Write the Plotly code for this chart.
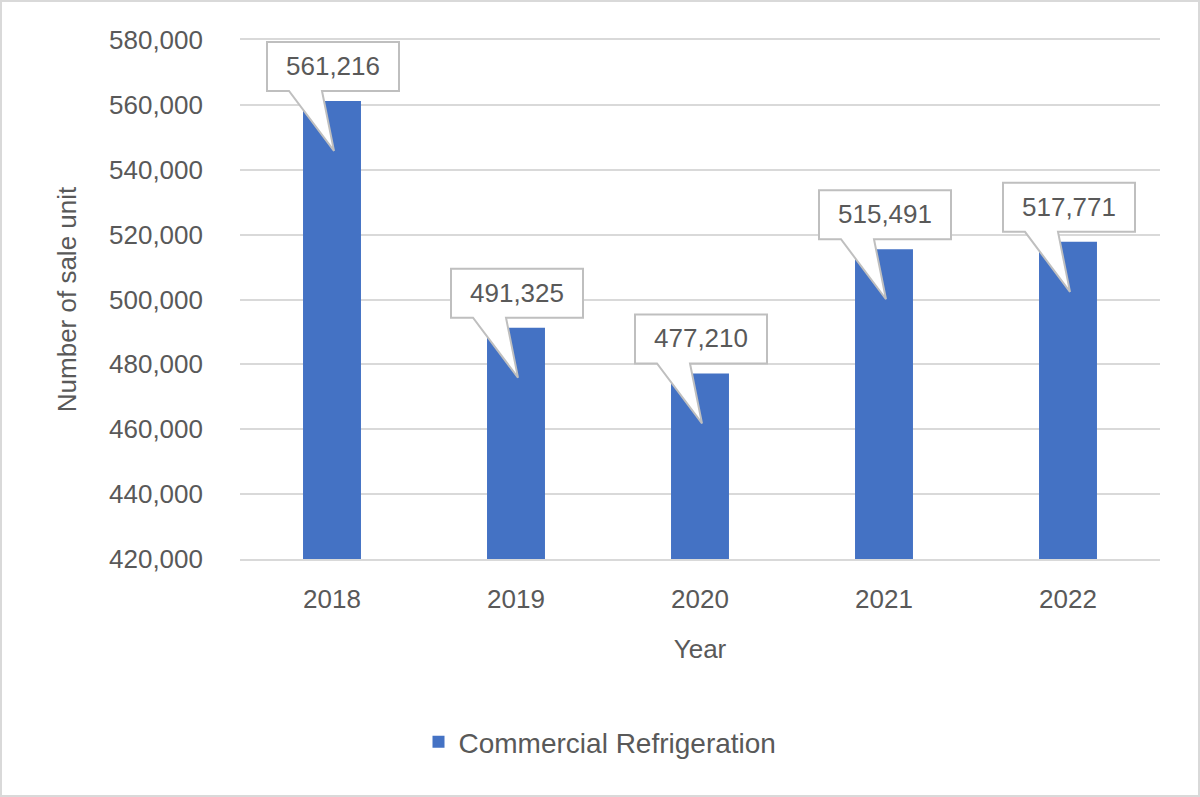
import plotly.graph_objects as go

years = ["2018", "2019", "2020", "2021", "2022"]
sales = [561216, 491325, 477210, 515491, 517771]
y_ticks = [420000, 440000, 460000, 480000, 500000, 520000, 540000, 560000, 580000]
series_name = "Commercial Refrigeration"

BAR = "#4472C4"
TXT = "#595959"
GRID = "#D9D9D9"
FONT = "Liberation Sans, Arial, sans-serif"

idx = list(range(len(years)))

fig = go.Figure()
fig.add_trace(go.Bar(
    x=idx, y=sales, name=series_name, marker=dict(color=BAR, line=dict(width=0)),
    width=0.315, showlegend=True, hoverinfo="skip"
))

fig.update_layout(
    width=1200, height=797,
    margin=dict(l=240, r=40, t=40, b=238),
    paper_bgcolor="white", plot_bgcolor="white",
    font=dict(family=FONT, color=TXT, size=26),
    legend=dict(orientation="h", x=0.5, xref="container", xanchor="center",
                y=55 / 797, yref="container", yanchor="middle",
                font=dict(size=28, color=TXT, family=FONT)),
    xaxis=dict(range=[-0.5, 4.5], tickvals=idx, ticktext=years, showgrid=False,
               zeroline=False, showline=True, mirror=True, linecolor=GRID, linewidth=2,
               ticks="", ticklabelstandoff=16,
               tickfont=dict(size=26, color=TXT),
               title=dict(text="Year", font=dict(size=26, color=TXT), standoff=27)),
    yaxis=dict(range=[420000, 580000], tickvals=y_ticks, tickformat=",",
               showgrid=True, gridcolor=GRID, gridwidth=2, zeroline=False,
               showline=False, ticks="", ticklabelstandoff=36,
               tickfont=dict(size=26, color=TXT),
               title=dict(text="Number of sale unit", font=dict(size=26, color=TXT), standoff=24)),
)

# outer chart border
fig.add_shape(type="rect", xref="paper", yref="paper", x0=-239/920, x1=1 + 39/920,
              y0=-237/519, y1=1 + 39/519, line=dict(color=GRID, width=2),
              fillcolor="rgba(0,0,0,0)", layer="below")

# callouts
callout_path = "M -65,10 L -43,10 L 2,-50 L -10,10 L 67,10 L 67,59 L -65,59 Z"
for i, v in zip(idx, sales):
    fig.add_shape(type="path", xref="x", yref="y", xsizemode="pixel", ysizemode="pixel",
                  xanchor=i, yanchor=v, path=callout_path,
                  fillcolor="white", line=dict(color="#BFBFBF", width=2), layer="above")
    fig.add_annotation(x=i, y=v, xref="x", yref="y", text=f"{v:,}", showarrow=False,
                       xshift=1, yshift=35, font=dict(size=26, color=TXT, family=FONT))

fig.write_html("out.html", config={"displayModeBar": False},
               post_script="document.body.style.margin='0';document.body.style.overflow='hidden';")
